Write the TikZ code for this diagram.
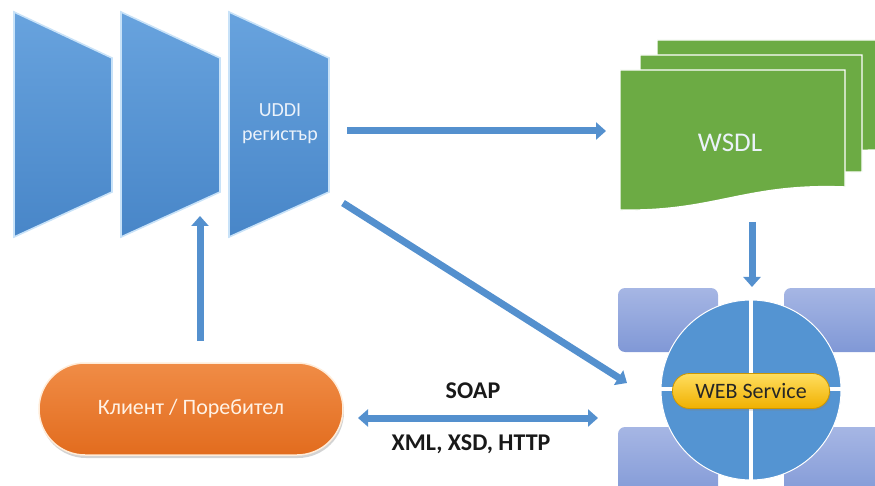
\documentclass[tikz,border=0pt]{standalone}
\usepackage{fontspec}
\setmainfont{Carlito}
\usetikzlibrary{arrows.meta,shadows}
\definecolor{arrblue}{RGB}{84,144,206}
\definecolor{paneltop}{RGB}{104,163,222}
\definecolor{panelbot}{RGB}{72,134,200}
\definecolor{paneledge}{RGB}{200,226,248}
\definecolor{wsdlgreen}{RGB}{108,171,68}
\definecolor{wsblue}{RGB}{84,148,210}
\definecolor{recttop}{RGB}{166,182,228}
\definecolor{rectbot}{RGB}{128,152,214}
\definecolor{pilltop}{RGB}{255,222,95}
\definecolor{pillbot}{RGB}{240,176,0}
\definecolor{pilledge}{RGB}{205,150,0}
\definecolor{orangetop}{RGB}{240,140,70}
\definecolor{orangebot}{RGB}{226,108,30}
\definecolor{lighttext}{RGB}{235,242,250}
\tikzset{
  flow/.style={draw=arrblue, line width=7pt, -{Triangle[width=17pt,length=10pt]}},
  flowboth/.style={draw=arrblue, line width=7pt, {Triangle[width=17pt,length=10pt]}-{Triangle[width=17pt,length=10pt]}},
  panel/.style={top color=paneltop, bottom color=panelbot, draw=paneledge, line width=1.6pt, line join=miter},
  doc/.style={fill=wsdlgreen, draw=white, line width=1.4pt},
  sidebox/.style={top color=recttop, bottom color=rectbot, draw=none, rounded corners=7pt},
  lbl/.style={font=\bfseries\fontsize{24}{28}\selectfont, text=black!90}
}
\begin{document}
\begin{tikzpicture}[x=1pt,y=-1pt]
\useasboundingbox (0,0) rectangle (875,486);
\begin{scope}
\clip (0,0) rectangle (875,486);
% UDDI panels
\foreach \L/\R in {14/112, 121/220, 229/329} {
  \path[panel] (\L,12) -- (\R,58) -- (\R,192) -- (\L,237) -- cycle;
}
\node[text=lighttext, align=center, font=\fontsize{20}{24}\selectfont] (uddi) at (280,124) {UDDI\\регистър};
\coordinate (uddiE) at (347,131);
\coordinate (uddiSE) at (343,203);
\coordinate (uddiS) at (200,216);

% WSDL documents
\path[doc] (657,40) -- (885,40) -- (885,150) .. controls (800,150) and (740,165) .. (657,160) -- cycle;
\path[doc] (640,55) -- (862,55) -- (862,172) .. controls (780,172) and (720,180) .. (640,175) -- cycle;
\path[doc] (620,70) -- (845,70) -- (845,187) .. controls (745,183) and (715,212) .. (620,210) -- cycle;
\node[text=lighttext, font=\fontsize{27}{31}\selectfont] (wsdl) at (730,143) {WSDL};
\coordinate (wsdlW) at (606,131);
\coordinate (wsdlS) at (752,222);

% Web service
\path[sidebox] (618,288) rectangle (718,352);
\path[sidebox] (784,288) rectangle (900,352);
\path[sidebox] (618,427) rectangle (718,500);
\path[sidebox] (784,427) rectangle (900,500);
\fill[wsblue] (751,390) circle (90);
\draw[white, line width=1pt] (751,390) circle (90);
\draw[white, line width=4pt] (751,298) -- (751,482);
\draw[white, line width=4pt] (659,389) -- (843,389);
\node[rounded corners=17pt, minimum width=157pt, minimum height=35pt, top color=pilltop, bottom color=pillbot, draw=pilledge, line width=0.8pt, drop shadow={opacity=0.3, shadow xshift=1pt, shadow yshift=-2pt}, text=black!85, font=\fontsize{22}{26}\selectfont] (ws) at (751,391) {WEB Service};
\coordinate (wsN) at (752,287);
\coordinate (wsNW) at (627,383);
\coordinate (wsW) at (598,418);

% Client
\node[rounded corners=46pt, minimum width=304pt, minimum height=92pt, top color=orangetop, bottom color=orangebot, draw=white!85!orange, line width=1.5pt, drop shadow={opacity=0.35, shadow xshift=1pt, shadow yshift=-3pt}, text=white!90!orange, font=\fontsize{22}{26}\selectfont] (client) at (191,409) {Клиент / Поребител};
\coordinate (clientE) at (358,418);
\coordinate (clientN) at (200,341);

% connectors
\draw[flow] (uddiE) -- (wsdlW);
\draw[flow] (uddiSE) -- (wsNW);
\draw[flow] (clientN) -- (uddiS);
\draw[flow] (wsdlS) -- (wsN);
\draw[flowboth] (clientE) -- (wsW);
\node[lbl] (soap) at (473,391) {SOAP};
\node[lbl] (xml) at (471,444) {XML, XSD, HTTP};
\end{scope}
\end{tikzpicture}
\end{document}
